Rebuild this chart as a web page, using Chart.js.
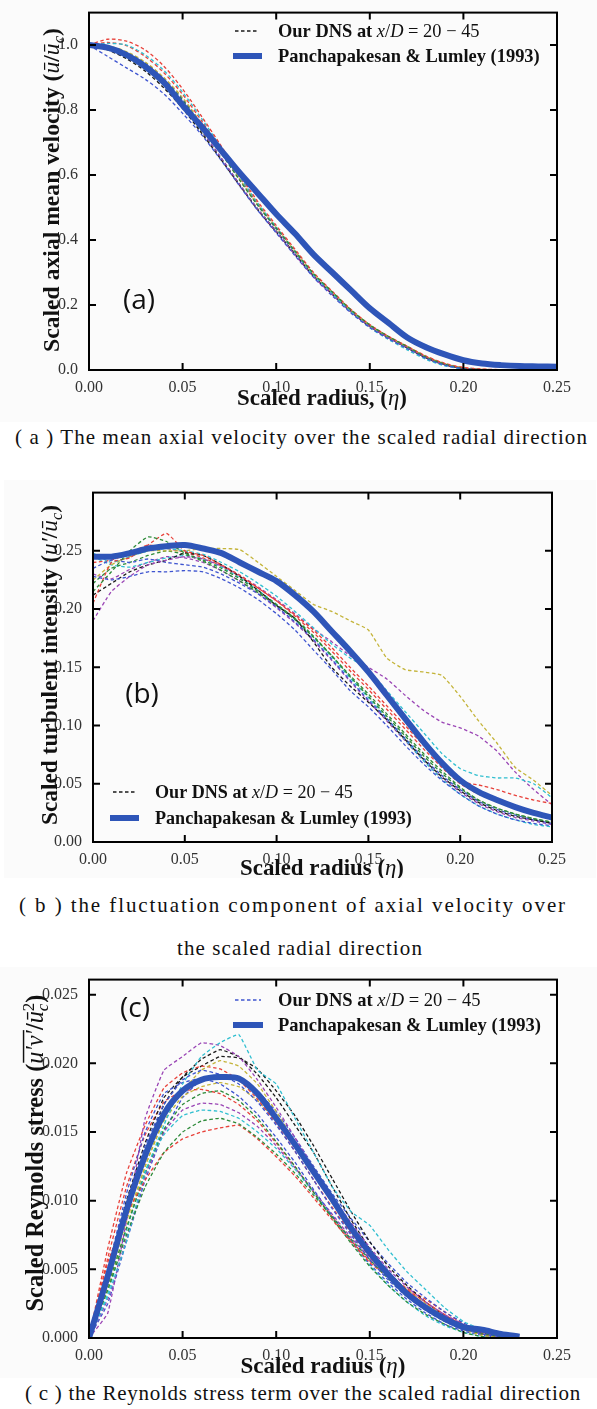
<!DOCTYPE html>
<html>
<head>
<meta charset="utf-8">
<script src="https://cdn.jsdelivr.net/npm/chart.js@4.4.1/dist/chart.umd.min.js"></script>
<style>
  html, body { margin: 0; padding: 0; background: #fff; }
  body { position: relative; width: 597px; height: 1409px; overflow: hidden; }
  canvas { position: absolute; background: #fbfbfb; }
  .cap {
    position: absolute; display: inline-block; white-space: nowrap;
    font-family: "Liberation Serif", serif; font-size: 21px;
    line-height: 24px; height: 24px; color: #111;
  }
</style>
</head>
<body>
<canvas id="panelA" width="597" height="422" style="left:0;top:0;width:597px;height:422px"></canvas>
<div class="cap" data-w="573" style="left:15px;top:425px">( a ) The mean axial velocity over the scaled radial direction</div>

<canvas id="panelB" width="592" height="398" style="left:4px;top:480px;width:592px;height:398px"></canvas>
<div class="cap" data-w="548" style="left:19px;top:893px">( b ) the fluctuation component of axial velocity over</div>
<div class="cap" data-w="246" style="left:177px;top:936px">the scaled radial direction</div>

<canvas id="panelC" width="597" height="411" style="left:0;top:967px;width:597px;height:411px"></canvas>
<div class="cap" data-w="556" style="left:25px;top:1381px">( c ) the Reynolds stress term over the scaled radial direction</div>

<script>
// scaled radius, shared by all three panels
const ETA = [0.00, 0.01, 0.02, 0.03, 0.04, 0.05, 0.06, 0.07, 0.08, 0.09, 0.10, 0.11, 0.12,
  0.13, 0.14, 0.15, 0.16, 0.17, 0.18, 0.19, 0.20, 0.21, 0.22, 0.23, 0.24, 0.25];

const X_TICKS = [0, 0.05, 0.10, 0.15, 0.20, 0.25];
const A_Y_TICKS = [0, 0.2, 0.4, 0.6, 0.8, 1.0];
const B_Y_TICKS = [0, 0.05, 0.10, 0.15, 0.20, 0.25];
const C_Y_TICKS = [0, 0.005, 0.010, 0.015, 0.020, 0.025];

// (a) mean axial velocity
const A_REF = [1.000, 0.992, 0.970, 0.934, 0.885, 0.815, 0.750, 0.680, 0.610, 0.545, 0.480, 0.420, 0.355,
  0.300, 0.245, 0.190, 0.145, 0.100, 0.070, 0.048, 0.030, 0.020, 0.015, 0.012, 0.011, 0.010];
const A_DNS = [
  [1.000, 0.965, 0.930, 0.895, 0.850, 0.790, 0.725, 0.650, 0.570, 0.492, 0.422, 0.352, 0.285, 0.228, 0.175, 0.131, 0.096, 0.066, 0.036, 0.015, 0.004, 0.001, 0, 0, 0, 0],
  [1.000, 0.995, 0.975, 0.942, 0.893, 0.830, 0.752, 0.672, 0.588, 0.508, 0.437, 0.366, 0.296, 0.240, 0.185, 0.139, 0.103, 0.072, 0.040, 0.018, 0.005, 0.001, 0, 0, 0, 0],
  [1.000, 1.018, 1.012, 0.985, 0.935, 0.865, 0.782, 0.695, 0.605, 0.520, 0.445, 0.372, 0.300, 0.242, 0.186, 0.140, 0.104, 0.073, 0.042, 0.020, 0.007, 0.002, 0.001, 0, 0, 0],
  [1.000, 1.005, 1.000, 0.970, 0.922, 0.855, 0.775, 0.690, 0.600, 0.515, 0.440, 0.366, 0.293, 0.236, 0.178, 0.130, 0.094, 0.062, 0.033, 0.013, 0.003, 0.001, 0, 0, 0, 0],
  [1.000, 0.990, 0.965, 0.928, 0.878, 0.815, 0.738, 0.658, 0.575, 0.496, 0.426, 0.355, 0.287, 0.232, 0.178, 0.134, 0.099, 0.069, 0.039, 0.017, 0.005, 0.001, 0, 0, 0, 0],
  [1.000, 0.998, 0.980, 0.948, 0.900, 0.838, 0.760, 0.678, 0.592, 0.510, 0.438, 0.365, 0.294, 0.238, 0.183, 0.137, 0.101, 0.071, 0.041, 0.019, 0.006, 0.002, 0.001, 0, 0, 0],
  [1.000, 0.985, 0.958, 0.920, 0.868, 0.805, 0.730, 0.652, 0.572, 0.494, 0.425, 0.356, 0.288, 0.233, 0.179, 0.134, 0.099, 0.068, 0.037, 0.016, 0.004, 0.001, 0, 0, 0, 0],
  [1.000, 0.996, 0.978, 0.946, 0.898, 0.834, 0.756, 0.675, 0.590, 0.508, 0.434, 0.362, 0.292, 0.236, 0.182, 0.136, 0.100, 0.070, 0.040, 0.018, 0.005, 0.001, 0, 0, 0, 0],
  [1.000, 0.988, 0.962, 0.926, 0.876, 0.812, 0.736, 0.657, 0.575, 0.497, 0.428, 0.358, 0.290, 0.234, 0.180, 0.135, 0.100, 0.069, 0.038, 0.017, 0.005, 0.001, 0, 0, 0, 0],
  [1.000, 1.008, 0.998, 0.965, 0.915, 0.848, 0.768, 0.684, 0.597, 0.513, 0.439, 0.367, 0.297, 0.240, 0.184, 0.138, 0.103, 0.073, 0.043, 0.021, 0.008, 0.003, 0.001, 0, 0, 0]
];
const A_COLORS = ['b', 'g', 'r', 'c', 'm', 'y', 'k', 'b', 'g', 'r'];

// (b) turbulent intensity
const B_REF = [0.245, 0.245, 0.248, 0.252, 0.254, 0.255, 0.252, 0.248, 0.240, 0.232, 0.224, 0.212, 0.198,
  0.181, 0.164, 0.146, 0.126, 0.106, 0.086, 0.068, 0.053, 0.043, 0.036, 0.030, 0.025, 0.021];
const B_DNS = [
  [0.228, 0.225, 0.228, 0.232, 0.232, 0.233, 0.232, 0.226, 0.218, 0.208, 0.196, 0.182, 0.165, 0.148, 0.130, 0.116, 0.100, 0.083, 0.067, 0.053, 0.041, 0.031, 0.024, 0.019, 0.016, 0.014],
  [0.215, 0.232, 0.250, 0.262, 0.258, 0.248, 0.242, 0.235, 0.226, 0.215, 0.204, 0.192, 0.177, 0.160, 0.143, 0.127, 0.110, 0.093, 0.076, 0.061, 0.047, 0.036, 0.029, 0.024, 0.020, 0.017],
  [0.205, 0.240, 0.244, 0.255, 0.265, 0.250, 0.246, 0.238, 0.229, 0.218, 0.207, 0.195, 0.182, 0.167, 0.150, 0.134, 0.117, 0.100, 0.083, 0.067, 0.052, 0.049, 0.045, 0.040, 0.036, 0.033],
  [0.248, 0.240, 0.245, 0.250, 0.252, 0.250, 0.247, 0.240, 0.232, 0.222, 0.211, 0.198, 0.184, 0.170, 0.158, 0.148, 0.130, 0.112, 0.094, 0.076, 0.063, 0.057, 0.055, 0.055, 0.050, 0.038],
  [0.190, 0.215, 0.228, 0.238, 0.242, 0.245, 0.243, 0.237, 0.229, 0.219, 0.208, 0.196, 0.183, 0.172, 0.160, 0.150, 0.140, 0.126, 0.113, 0.103, 0.098, 0.091, 0.078, 0.060, 0.045, 0.032],
  [0.225, 0.238, 0.245, 0.250, 0.250, 0.250, 0.252, 0.252, 0.251, 0.240, 0.228, 0.216, 0.204, 0.198, 0.190, 0.182, 0.158, 0.148, 0.146, 0.143, 0.125, 0.104, 0.085, 0.064, 0.053, 0.040],
  [0.212, 0.222, 0.232, 0.238, 0.242, 0.248, 0.246, 0.238, 0.228, 0.216, 0.203, 0.192, 0.172, 0.150, 0.134, 0.120, 0.105, 0.088, 0.071, 0.056, 0.044, 0.034, 0.027, 0.022, 0.019, 0.016],
  [0.235, 0.242, 0.240, 0.243, 0.240, 0.238, 0.236, 0.230, 0.222, 0.213, 0.202, 0.189, 0.174, 0.157, 0.139, 0.122, 0.106, 0.089, 0.072, 0.057, 0.045, 0.035, 0.028, 0.023, 0.019, 0.016],
  [0.222, 0.235, 0.240, 0.246, 0.250, 0.247, 0.241, 0.233, 0.224, 0.214, 0.203, 0.191, 0.176, 0.160, 0.142, 0.125, 0.108, 0.091, 0.074, 0.059, 0.046, 0.036, 0.029, 0.024, 0.020, 0.017],
  [0.240, 0.242, 0.248, 0.255, 0.252, 0.249, 0.244, 0.237, 0.228, 0.218, 0.207, 0.194, 0.180, 0.164, 0.147, 0.131, 0.114, 0.097, 0.080, 0.064, 0.050, 0.041, 0.035, 0.029, 0.024, 0.020],
  [0.245, 0.238, 0.236, 0.240, 0.244, 0.246, 0.243, 0.236, 0.227, 0.216, 0.204, 0.191, 0.176, 0.159, 0.141, 0.124, 0.106, 0.088, 0.070, 0.054, 0.041, 0.031, 0.024, 0.019, 0.015, 0.013],
  [0.230, 0.226, 0.234, 0.240, 0.245, 0.244, 0.240, 0.233, 0.224, 0.213, 0.201, 0.188, 0.173, 0.156, 0.138, 0.121, 0.104, 0.087, 0.070, 0.055, 0.043, 0.033, 0.026, 0.021, 0.018, 0.015]
];
const B_COLORS = ['b', 'g', 'r', 'c', 'm', 'y', 'k', 'b', 'g', 'r', 'c', 'm'];

// (c) Reynolds stress
const C_REF = [0, 0.0045, 0.0093, 0.0133, 0.0163, 0.0180, 0.0188, 0.0190, 0.0189, 0.0178, 0.0160, 0.0141, 0.0121,
  0.0101, 0.0080, 0.0062, 0.0046, 0.0032, 0.0022, 0.0014, 0.0008, 0.0006, 0.0003, 0.0001, null, null];
const C_DNS = [
  [0, 0.0045, 0.0095, 0.0140, 0.0170, 0.0188, 0.0195, 0.0192, 0.0185, 0.0172, 0.0155, 0.0136, 0.0115, 0.0094, 0.0075, 0.0057, 0.0042, 0.0030, 0.0020, 0.0012, 0.0006, 0.0003, 0.0001, 0, 0, 0],
  [0, 0.0035, 0.0075, 0.0110, 0.0135, 0.0150, 0.0158, 0.0160, 0.0156, 0.0146, 0.0134, 0.0120, 0.0104, 0.0088, 0.0072, 0.0057, 0.0043, 0.0031, 0.0021, 0.0013, 0.0007, 0.0003, 0.0001, 0, 0, 0],
  [0, 0.0055, 0.0090, 0.0115, 0.0135, 0.0145, 0.0150, 0.0153, 0.0155, 0.0145, 0.0132, 0.0118, 0.0102, 0.0086, 0.0070, 0.0055, 0.0044, 0.0034, 0.0023, 0.0014, 0.0007, 0.0003, 0.0001, 0, 0, 0],
  [0, 0.0030, 0.0070, 0.0120, 0.0155, 0.0185, 0.0205, 0.0215, 0.0221, 0.0195, 0.0185, 0.0160, 0.0135, 0.0110, 0.0092, 0.0082, 0.0064, 0.0048, 0.0035, 0.0022, 0.0012, 0.0006, 0.0002, 0, 0, 0],
  [0, 0.0018, 0.0085, 0.0160, 0.0195, 0.0205, 0.0215, 0.0213, 0.0205, 0.0188, 0.0168, 0.0146, 0.0124, 0.0103, 0.0084, 0.0066, 0.0050, 0.0037, 0.0026, 0.0017, 0.0010, 0.0005, 0.0002, 0, 0, 0],
  [0, 0.0040, 0.0085, 0.0125, 0.0160, 0.0180, 0.0195, 0.0202, 0.0198, 0.0185, 0.0165, 0.0143, 0.0120, 0.0098, 0.0078, 0.0060, 0.0045, 0.0033, 0.0022, 0.0013, 0.0006, 0.0002, 0, 0, 0, 0],
  [0, 0.0042, 0.0090, 0.0135, 0.0170, 0.0190, 0.0203, 0.0210, 0.0205, 0.0192, 0.0175, 0.0155, 0.0135, 0.0110, 0.0086, 0.0065, 0.0048, 0.0034, 0.0023, 0.0014, 0.0007, 0.0003, 0.0001, 0, 0, 0],
  [0, 0.0050, 0.0105, 0.0150, 0.0178, 0.0186, 0.0189, 0.0185, 0.0176, 0.0163, 0.0146, 0.0128, 0.0108, 0.0089, 0.0071, 0.0054, 0.0040, 0.0028, 0.0018, 0.0010, 0.0005, 0.0002, 0, 0, 0, 0],
  [0, 0.0038, 0.0080, 0.0120, 0.0152, 0.0170, 0.0178, 0.0180, 0.0173, 0.0160, 0.0143, 0.0125, 0.0106, 0.0087, 0.0069, 0.0052, 0.0038, 0.0026, 0.0017, 0.0010, 0.0004, 0.0001, 0, 0, 0, 0],
  [0, 0.0065, 0.0120, 0.0155, 0.0182, 0.0193, 0.0198, 0.0196, 0.0188, 0.0174, 0.0156, 0.0136, 0.0115, 0.0095, 0.0076, 0.0059, 0.0045, 0.0035, 0.0026, 0.0017, 0.0009, 0.0004, 0.0001, 0, 0, 0],
  [0, 0.0032, 0.0078, 0.0122, 0.0148, 0.0162, 0.0166, 0.0165, 0.0160, 0.0150, 0.0138, 0.0123, 0.0106, 0.0088, 0.0070, 0.0053, 0.0038, 0.0026, 0.0016, 0.0009, 0.0004, 0.0001, 0, 0, 0, 0],
  [0, 0.0028, 0.0072, 0.0118, 0.0150, 0.0166, 0.0171, 0.0170, 0.0164, 0.0154, 0.0140, 0.0124, 0.0107, 0.0090, 0.0073, 0.0058, 0.0045, 0.0034, 0.0024, 0.0015, 0.0008, 0.0003, 0.0001, 0, 0, 0],
  [0, 0.0035, 0.0080, 0.0125, 0.0158, 0.0176, 0.0183, 0.0186, 0.0183, 0.0173, 0.0158, 0.0140, 0.0120, 0.0100, 0.0080, 0.0062, 0.0047, 0.0035, 0.0025, 0.0016, 0.0009, 0.0004, 0.0001, 0, 0, 0],
  [0, 0.0048, 0.0100, 0.0142, 0.0175, 0.0190, 0.0198, 0.0205, 0.0204, 0.0196, 0.0180, 0.0162, 0.0140, 0.0116, 0.0092, 0.0070, 0.0052, 0.0038, 0.0026, 0.0016, 0.0009, 0.0004, 0.0001, 0, 0, 0],
  [0, 0.0025, 0.0070, 0.0115, 0.0150, 0.0175, 0.0188, 0.0192, 0.0189, 0.0180, 0.0165, 0.0146, 0.0125, 0.0105, 0.0087, 0.0070, 0.0054, 0.0040, 0.0029, 0.0019, 0.0011, 0.0005, 0.0002, 0, 0, 0],
  [0, 0.0058, 0.0110, 0.0148, 0.0172, 0.0180, 0.0181, 0.0178, 0.0170, 0.0158, 0.0142, 0.0125, 0.0106, 0.0088, 0.0071, 0.0056, 0.0045, 0.0036, 0.0028, 0.0019, 0.0010, 0.0004, 0.0001, 0, 0, 0]
];
const C_COLORS = ['b', 'g', 'r', 'c', 'm', 'y', 'k', 'b', 'g', 'r', 'c', 'm', 'y', 'k', 'b', 'r'];

// matplotlib classic cycle, a bit muted like the scan
const LINE_COLORS = { b: '#3f55d0', g: '#2e8b3a', r: '#e8413a', c: '#30bfd0', m: '#9a45b5', y: '#c4b43a', k: '#1a1a1a' };
const REF_COLOR = '#2e55b8';
const SERIF = '"Liberation Serif", serif';
const TICK_FONT = { family: '"Liberation Serif", serif', size: 16 };
const TICK_COLOR = '#333';

// text pieces (roman / italic / sub / sup / overline)
const X_TITLE_A = [{ t: 'Scaled radius, (' }, { t: 'η', i: 1 }, { t: ')' }];
const X_TITLE_BC = [{ t: 'Scaled radius (' }, { t: 'η', i: 1 }, { t: ')' }];
const Y_TITLE_A = [{ t: 'Scaled axial mean velocity (' }, { t: 'ū', i: 1 }, { t: '/' }, { t: 'ū', i: 1 }, { t: 'c', i: 1, d: 'sub' }, { t: ')' }];
const Y_TITLE_B = [{ t: 'Scaled turbulent intensity (' }, { t: 'u′', i: 1 }, { t: '/' }, { t: 'ū', i: 1 }, { t: 'c', i: 1, d: 'sub' }, { t: ')' }];
const Y_TITLE_C = [{ t: 'Scaled Reynolds stress (' }, { t: 'u′v′', i: 1, over: 1 }, { t: '/' }, { t: 'ū', i: 1 }, { t: 'c', i: 1, d: 'sub', stack: 1 }, { t: '2', d: 'sup' }, { t: ')' }];
const LEG_DNS = [{ t: 'Our DNS at ' }, { t: 'x', i: 1 }, { t: '/', m: 1 }, { t: 'D', i: 1 }, { t: ' = 20 − 45', m: 1 }];
const LEG_REF = [{ t: 'Panchapakesan & Lumley (1993)' }];

function segFont(seg, size) {
  const fs = seg.d ? size * 0.7 : size;
  const style = seg.i ? 'italic ' : (seg.m || seg.d ? '' : 'bold ');
  return style + fs.toFixed(2) + 'px ' + SERIF;
}

function measure(ctx, segs, size) {
  let w = 0;
  const items = segs.map(seg => {
    ctx.font = segFont(seg, size);
    const sw = ctx.measureText(seg.t).width;
    const it = { seg, x: w, w: sw, font: segFont(seg, size) };
    if (!seg.stack) w += sw;
    return it;
  });
  return { items, w };
}

function drawRich(ctx, segs, o) {
  let size = o.size || 19;
  if (o.fit) size = size * o.fit / measure(ctx, segs, size).w;
  const m = measure(ctx, segs, size);
  ctx.save();
  ctx.translate(o.x, o.y);
  if (o.rot) ctx.rotate(-Math.PI / 2);
  const x0 = o.align === 'left' ? 0 : -m.w / 2;
  const base = size * 0.33;
  ctx.fillStyle = '#111';
  ctx.strokeStyle = '#111';
  ctx.textAlign = 'left';
  ctx.textBaseline = 'alphabetic';
  m.items.forEach(it => {
    ctx.font = it.font;
    let dy = 0;
    if (it.seg.d === 'sub') dy = size * 0.22;
    if (it.seg.d === 'sup') dy = -size * 0.38;
    ctx.fillText(it.seg.t, x0 + it.x, base + dy);
    if (it.seg.over) {
      ctx.lineWidth = Math.max(1, size * 0.06);
      ctx.beginPath();
      ctx.moveTo(x0 + it.x + 1, base - size * 0.8);
      ctx.lineTo(x0 + it.x + it.w, base - size * 0.8);
      ctx.stroke();
    }
  });
  ctx.restore();
  return size;
}

function pts(arr) {
  return ETA.map((x, i) => ({ x, y: arr[i] }));
}

function decorations(o) {
  return {
    id: 'deco',
    afterDraw(chart) {
      const ctx = chart.ctx;
      const a = chart.chartArea;
      const sx = chart.scales.x, sy = chart.scales.y;
      ctx.save();
      // frame with inward ticks on all four sides
      ctx.strokeStyle = '#000';
      ctx.lineWidth = 2;
      ctx.setLineDash([]);
      ctx.strokeRect(a.left, a.top, a.right - a.left, a.bottom - a.top);
      ctx.beginPath();
      X_TICKS.forEach(v => {
        const px = sx.getPixelForValue(v);
        ctx.moveTo(px, a.bottom); ctx.lineTo(px, a.bottom - 7);
        ctx.moveTo(px, a.top); ctx.lineTo(px, a.top + 7);
      });
      o.yTicks.forEach(v => {
        const py = sy.getPixelForValue(v);
        ctx.moveTo(a.left, py); ctx.lineTo(a.left + 7, py);
        ctx.moveTo(a.right, py); ctx.lineTo(a.right - 7, py);
      });
      ctx.stroke();

      drawRich(ctx, o.xTitle.segs, o.xTitle);
      drawRich(ctx, o.yTitle.segs, Object.assign({ rot: 1 }, o.yTitle));

      // legend
      const L = o.legend;
      ctx.lineCap = 'butt';
      ctx.strokeStyle = LINE_COLORS[L.dnsColor];
      ctx.lineWidth = 1.4;
      ctx.setLineDash([3.5, 2.5]);
      ctx.beginPath(); ctx.moveTo(L.dns[0], L.dns[2]); ctx.lineTo(L.dns[1], L.dns[2]); ctx.stroke();
      ctx.setLineDash([]);
      ctx.strokeStyle = REF_COLOR;
      ctx.lineWidth = 6;
      ctx.beginPath(); ctx.moveTo(L.ref[0], L.ref[2]); ctx.lineTo(L.ref[1], L.ref[2]); ctx.stroke();
      const fs = drawRich(ctx, LEG_REF, { x: L.textX, y: L.ref[2], size: 18, fit: L.fit, align: 'left' });
      drawRich(ctx, LEG_DNS, { x: L.textX, y: L.dns[2], size: fs, align: 'left' });

      // panel letter
      ctx.fillStyle = '#111';
      ctx.font = '28px "Open Sans", sans-serif';
      ctx.textAlign = 'center';
      ctx.textBaseline = 'middle';
      ctx.fillText(o.label.t, o.label.x, o.label.y);
      ctx.restore();
    }
  };
}

function panel(id, o) {
  const canvas = document.getElementById(id);
  const W = canvas.width, H = canvas.height;
  const datasets = [{
    data: pts(o.ref), borderColor: REF_COLOR, borderWidth: 6, order: 0, tension: 0.3, spanGaps: false
  }];
  o.dns.forEach((s, i) => datasets.push({
    data: pts(s), borderColor: LINE_COLORS[o.colors[i]], borderWidth: 1.3,
    borderDash: [3.5, 2.5], order: 1, tension: o.tension
  }));
  return new Chart(canvas, {
    type: 'line',
    data: { datasets },
    options: {
      responsive: false,
      animation: false,
      events: [],
      layout: { autoPadding: false, padding: { left: 0, top: o.area.top, right: W - o.area.right, bottom: 0 } },
      elements: { point: { radius: 0 }, line: { borderCapStyle: 'butt', borderJoinStyle: 'round' } },
      plugins: { legend: { display: false }, tooltip: { enabled: false }, title: { display: false } },
      scales: {
        x: {
          type: 'linear', min: 0, max: 0.25,
          grid: { display: false }, border: { display: false },
          afterBuildTicks: s => { s.ticks = X_TICKS.map(v => ({ value: v })); },
          afterFit: s => { s.height = H - o.area.bottom; },
          ticks: { padding: 0, color: TICK_COLOR, font: TICK_FONT, maxRotation: 0, autoSkip: false,
            callback: v => v.toFixed(2) }
        },
        y: {
          type: 'linear', min: 0, max: o.yMax,
          grid: { display: false }, border: { display: false },
          afterBuildTicks: s => { s.ticks = o.yTicks.map(v => ({ value: v })); },
          afterFit: s => { s.width = o.area.left; },
          ticks: { padding: 3, color: TICK_COLOR, font: TICK_FONT, autoSkip: false,
            callback: v => v.toFixed(o.yDigits) }
        }
      }
    },
    plugins: [decorations(o)]
  });
}

panel('panelA', {
  ref: A_REF, dns: A_DNS, colors: A_COLORS, tension: 0.3,
  yMax: 1.1, yTicks: A_Y_TICKS, yDigits: 1,
  area: { left: 89, top: 7, right: 557, bottom: 370 },
  xTitle: { segs: X_TITLE_A, x: 322, y: 397, size: 21, fit: 170 },
  yTitle: { segs: Y_TITLE_A, x: 51, y: 190, size: 21, fit: 324 },
  legend: { dns: [235, 259, 31], ref: [233, 262, 56], textX: 278, fit: 262, dnsColor: 'k' },
  label: { t: '(a)', x: 139, y: 301 }
});

panel('panelB', {
  ref: B_REF, dns: B_DNS, colors: B_COLORS, tension: 0.15,
  yMax: 0.30, yTicks: B_Y_TICKS, yDigits: 2,
  area: { left: 89, top: 6, right: 548, bottom: 362 },
  xTitle: { segs: X_TITLE_BC, x: 318, y: 387, size: 21, fit: 164 },
  yTitle: { segs: Y_TITLE_B, x: 45, y: 185, size: 21, fit: 320 },
  legend: { dns: [109, 133, 312], ref: [106, 135, 338], textX: 151, fit: 257, dnsColor: 'k' },
  label: { t: '(b)', x: 138, y: 215 }
});

panel('panelC', {
  ref: C_REF, dns: C_DNS, colors: C_COLORS, tension: 0.1,
  yMax: 0.0261, yTicks: C_Y_TICKS, yDigits: 3,
  area: { left: 89, top: 10, right: 557, bottom: 371 },
  xTitle: { segs: X_TITLE_BC, x: 323, y: 398, size: 21, fit: 165 },
  yTitle: { segs: Y_TITLE_C, x: 35, y: 186, size: 21, fit: 317 },
  legend: { dns: [235, 261, 33], ref: [233, 263, 58], textX: 278, fit: 263, dnsColor: 'b' },
  label: { t: '(c)', x: 135, y: 42 }
});

// spread each caption line to the width it has in the figure
document.querySelectorAll('.cap').forEach(el => {
  const target = parseFloat(el.dataset.w);
  const natural = el.getBoundingClientRect().width;
  const n = el.textContent.length;
  el.style.letterSpacing = ((target - natural) / n).toFixed(3) + 'px';
});
</script>
</body>
</html>
